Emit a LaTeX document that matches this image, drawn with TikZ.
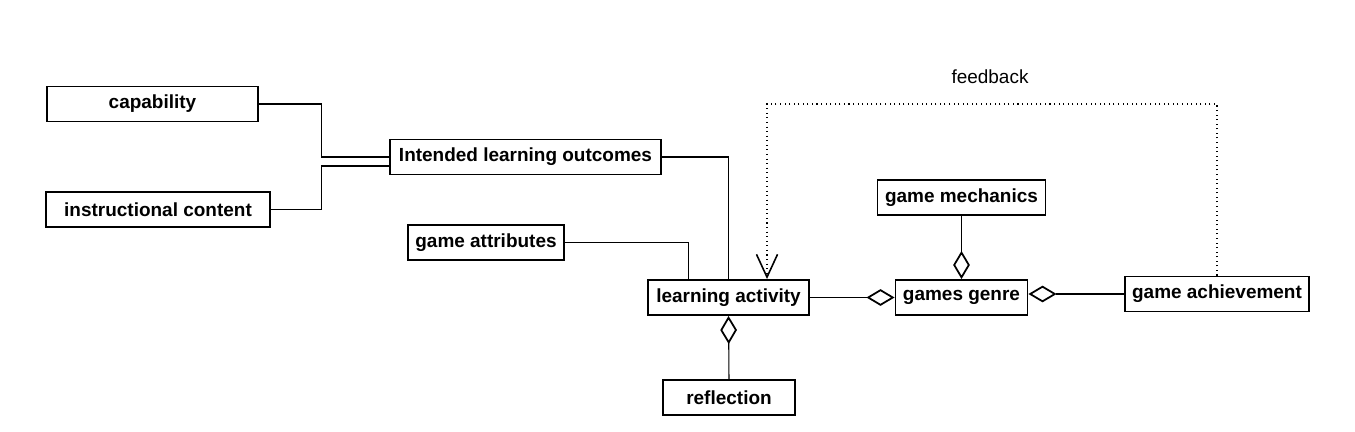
\documentclass[tikz,border=0pt]{standalone}
\usepackage{fontspec}
\setmainfont{Liberation Sans}
\usetikzlibrary{arrows.meta}
\tikzset{box/.style={draw, line width=1.1pt, font=\fontsize{10.8}{13}\selectfont\bfseries, minimum height=0.7cm, inner sep=0pt},
  agg/.style={-{Diamond[open, length=16pt, width=9.5pt, line width=1pt]}},
  >/.tip={Straight Barb[length=13pt, width=12pt, line width=0.9pt]}}

\begin{document}
\begin{tikzpicture}[x=0.02cm, y=-0.02cm, line width=0.6pt]
\useasboundingbox (0,0) rectangle (1355,432);
\node[box, minimum width=4.22cm] (cap) at (152.5,104) {capability};
\node[box, minimum width=4.48cm] (instr) at (158,209.5) {instructional content};
\node[box, minimum width=5.42cm] (ilo) at (525.5,157) {Intended learning outcomes};
\node[box, minimum width=3.12cm] (attr) at (486,242.5) {game attributes};
\node[box, minimum width=3.22cm] (act) at (728.5,297.5) {learning activity};
\node[box, minimum width=2.64cm] (refl) at (729,397.5) {reflection};
\node[box, minimum width=3.36cm] (mech) at (961.5,197.5) {game mechanics};
\node[box, minimum width=2.64cm] (genre) at (961.5,297.5) {games genre};
\node[box, minimum width=3.68cm] (ach) at (1217,294) {game achievement};
\node[font=\fontsize{10.8}{13}\selectfont] (fb) at (990,77) {feedback};

\coordinate (fbtop) at (767,104);

\draw (cap.east) -- ++(63,0) |- (ilo.west);
\draw (instr.east) -- ++(51,0) |- ([yshift=-0.18cm]ilo.west);
\draw (ilo.east) -| (act.north);
\draw (attr.east) -| ([xshift=0.82cm]act.north west);
\draw[dotted, ->] (ach.north) |- (fbtop) -- (fbtop |- act.north);

\draw[agg] (act.east) -- (genre.west);
\draw[agg] (mech.south) -- (genre.north);
\draw[agg] (ach.west) -- (genre.east |- ach.west);
\draw[agg] (refl.north) -- (act.south);
\end{tikzpicture}
\end{document}
